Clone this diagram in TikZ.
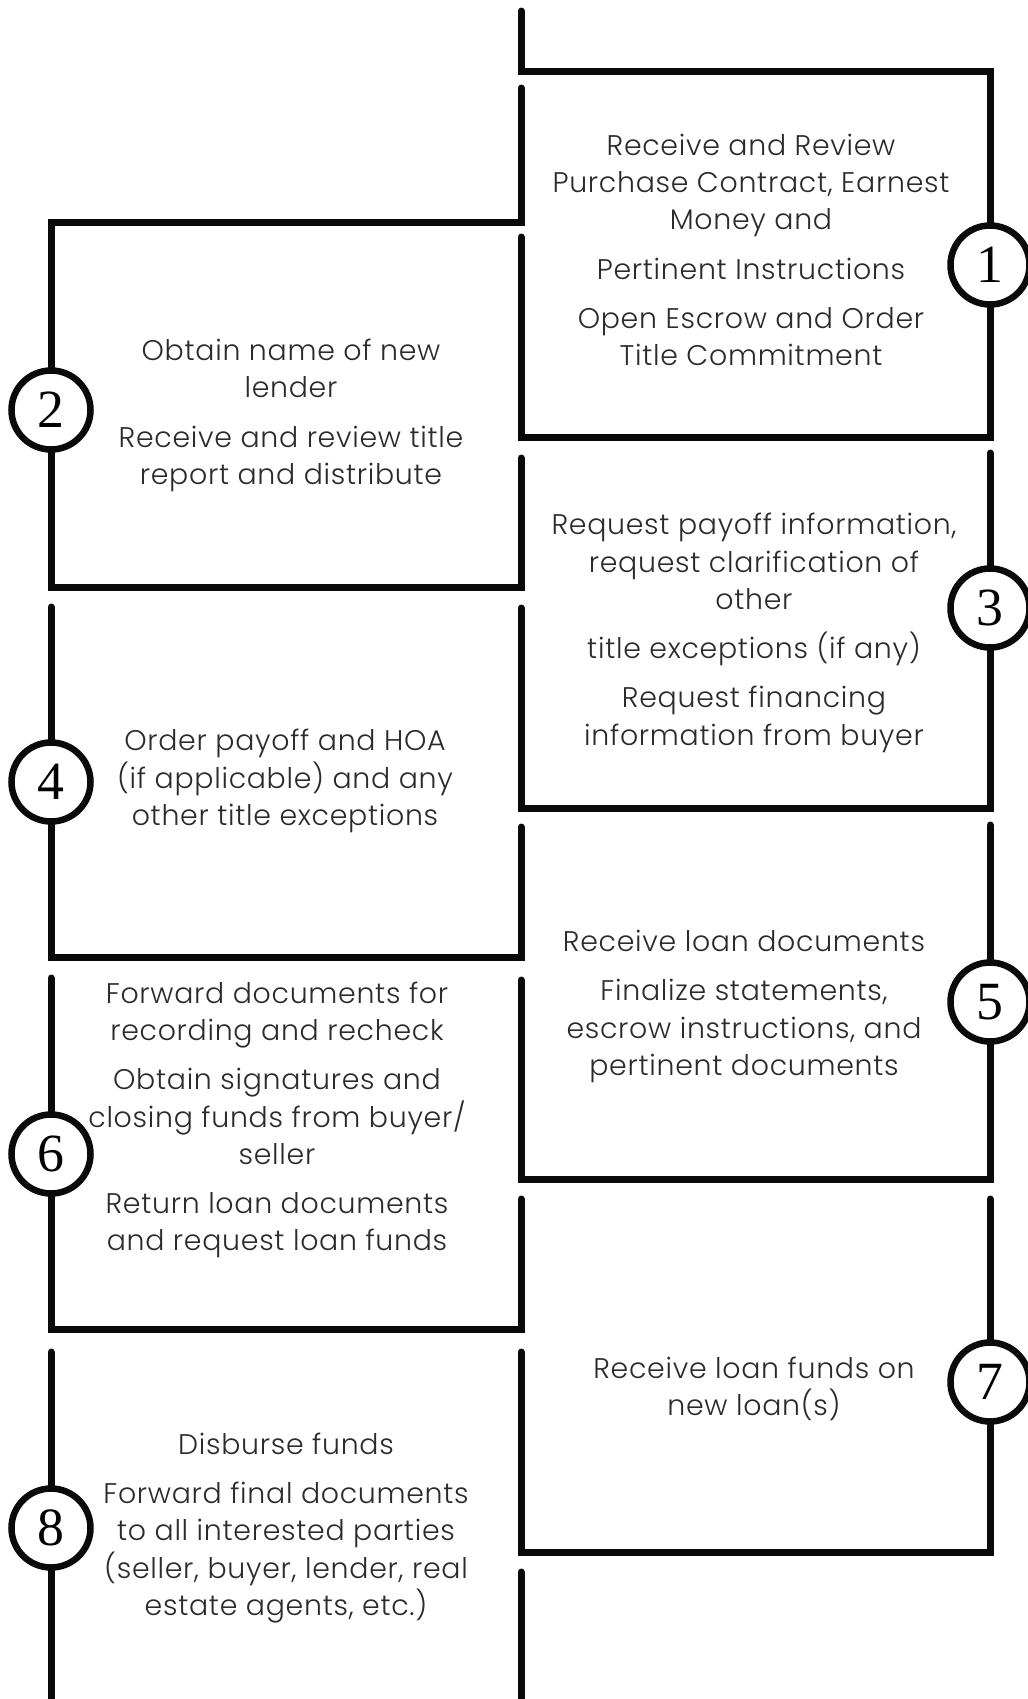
\documentclass[tikz,border=0pt]{standalone}
\usepackage{fontspec}
\newfontfamily\txtfont[LetterSpace=2.5]{Poppins Light}
\newfontfamily\numfont{Liberation Serif}
\definecolor{linecol}{HTML}{0A0A0A}
\definecolor{textgray}{HTML}{2B2B2B}
\tikzset{
  frame/.style={line width=7bp, draw=linecol, line cap=round, line join=miter},
  numcircle/.style={circle, draw=linecol, fill=white, line width=6.5bp, minimum size=79bp, inner sep=0pt, font=\numfont\fontsize{54}{54}\selectfont},
  txt/.style={align=center, text=textgray, inner sep=0pt, font=\txtfont\fontsize{28.5}{37.4}\selectfont}
}
\newcommand{\pg}{\\[12bp]}
\begin{document}
\begin{tikzpicture}[x=1bp,y=-1bp]
\useasboundingbox (0,0) rectangle (1027,1699);
\def\xl{51}\def\xc{521}\def\xr{990}
% frame lines
\draw[frame] (\xc,11) -- (\xc,71) -- (\xr,71) -- (\xr,437) -- (\xc,437) -- (\xc,237);
\draw[frame] (\xc,88) -- (\xc,222) -- (\xl,222) -- (\xl,587) -- (\xc,587) -- (\xc,458);
\draw[frame] (\xr,453) -- (\xr,808) -- (\xc,808) -- (\xc,608);
\draw[frame] (\xl,607) -- (\xl,957) -- (\xc,957) -- (\xc,827);
\draw[frame] (\xr,825) -- (\xr,1179) -- (\xc,1179) -- (\xc,980);
\draw[frame] (\xl,978) -- (\xl,1329) -- (\xc,1329) -- (\xc,1199);
\draw[frame] (\xr,1199) -- (\xr,1552) -- (\xc,1552) -- (\xc,1352);
\draw[frame] (\xl,1352) -- (\xl,1715);
\draw[frame] (\xc,1572) -- (\xc,1715);
% numbered circles
\node[numcircle] (c1) at (\xr,265) {1};
\node[numcircle] (c2) at (\xl,410) {2};
\node[numcircle] (c3) at (\xr,608) {3};
\node[numcircle] (c4) at (\xl,782) {4};
\node[numcircle] (c5) at (\xr,1002) {5};
\node[numcircle] (c6) at (\xl,1154) {6};
\node[numcircle] (c7) at (\xr,1382) {7};
\node[numcircle] (c8) at (\xl,1528) {8};
% texts
\node[txt] (t1) at (751,250) {Receive and Review\\Purchase Contract, Earnest\\Money and\pg Pertinent Instructions\pg Open Escrow and Order\\Title Commitment};
\node[txt] (t2) at (291,415.5) {Obtain name of new\\lender\pg Receive and review title\\report and distribute};
\node[txt] (t3) at (754,633) {Request payoff information,\\request clarification of\\other\pg title exceptions (if any)\pg Request financing\\information from buyer};
\node[txt] (t4) at (285,781) {Order payoff and HOA\\(if applicable) and any\\other title exceptions};
\node[txt] (t5) at (744,1006.5) {Receive loan documents\pg Finalize statements,\\escrow instructions, and\\pertinent documents};
\node[txt] (t6) at (277,1120) {Forward documents for\\recording and recheck\pg Obtain signatures and\\closing funds from buyer/\\seller\pg Return loan documents\\and request loan funds};
\node[txt] (t7) at (754,1389) {Receive loan funds on\\new loan(s)};
\node[txt] (t8) at (286,1528) {Disburse funds\pg Forward final documents\\to all interested parties\\(seller, buyer, lender, real\\estate agents, etc.)};
\end{tikzpicture}
\end{document}
